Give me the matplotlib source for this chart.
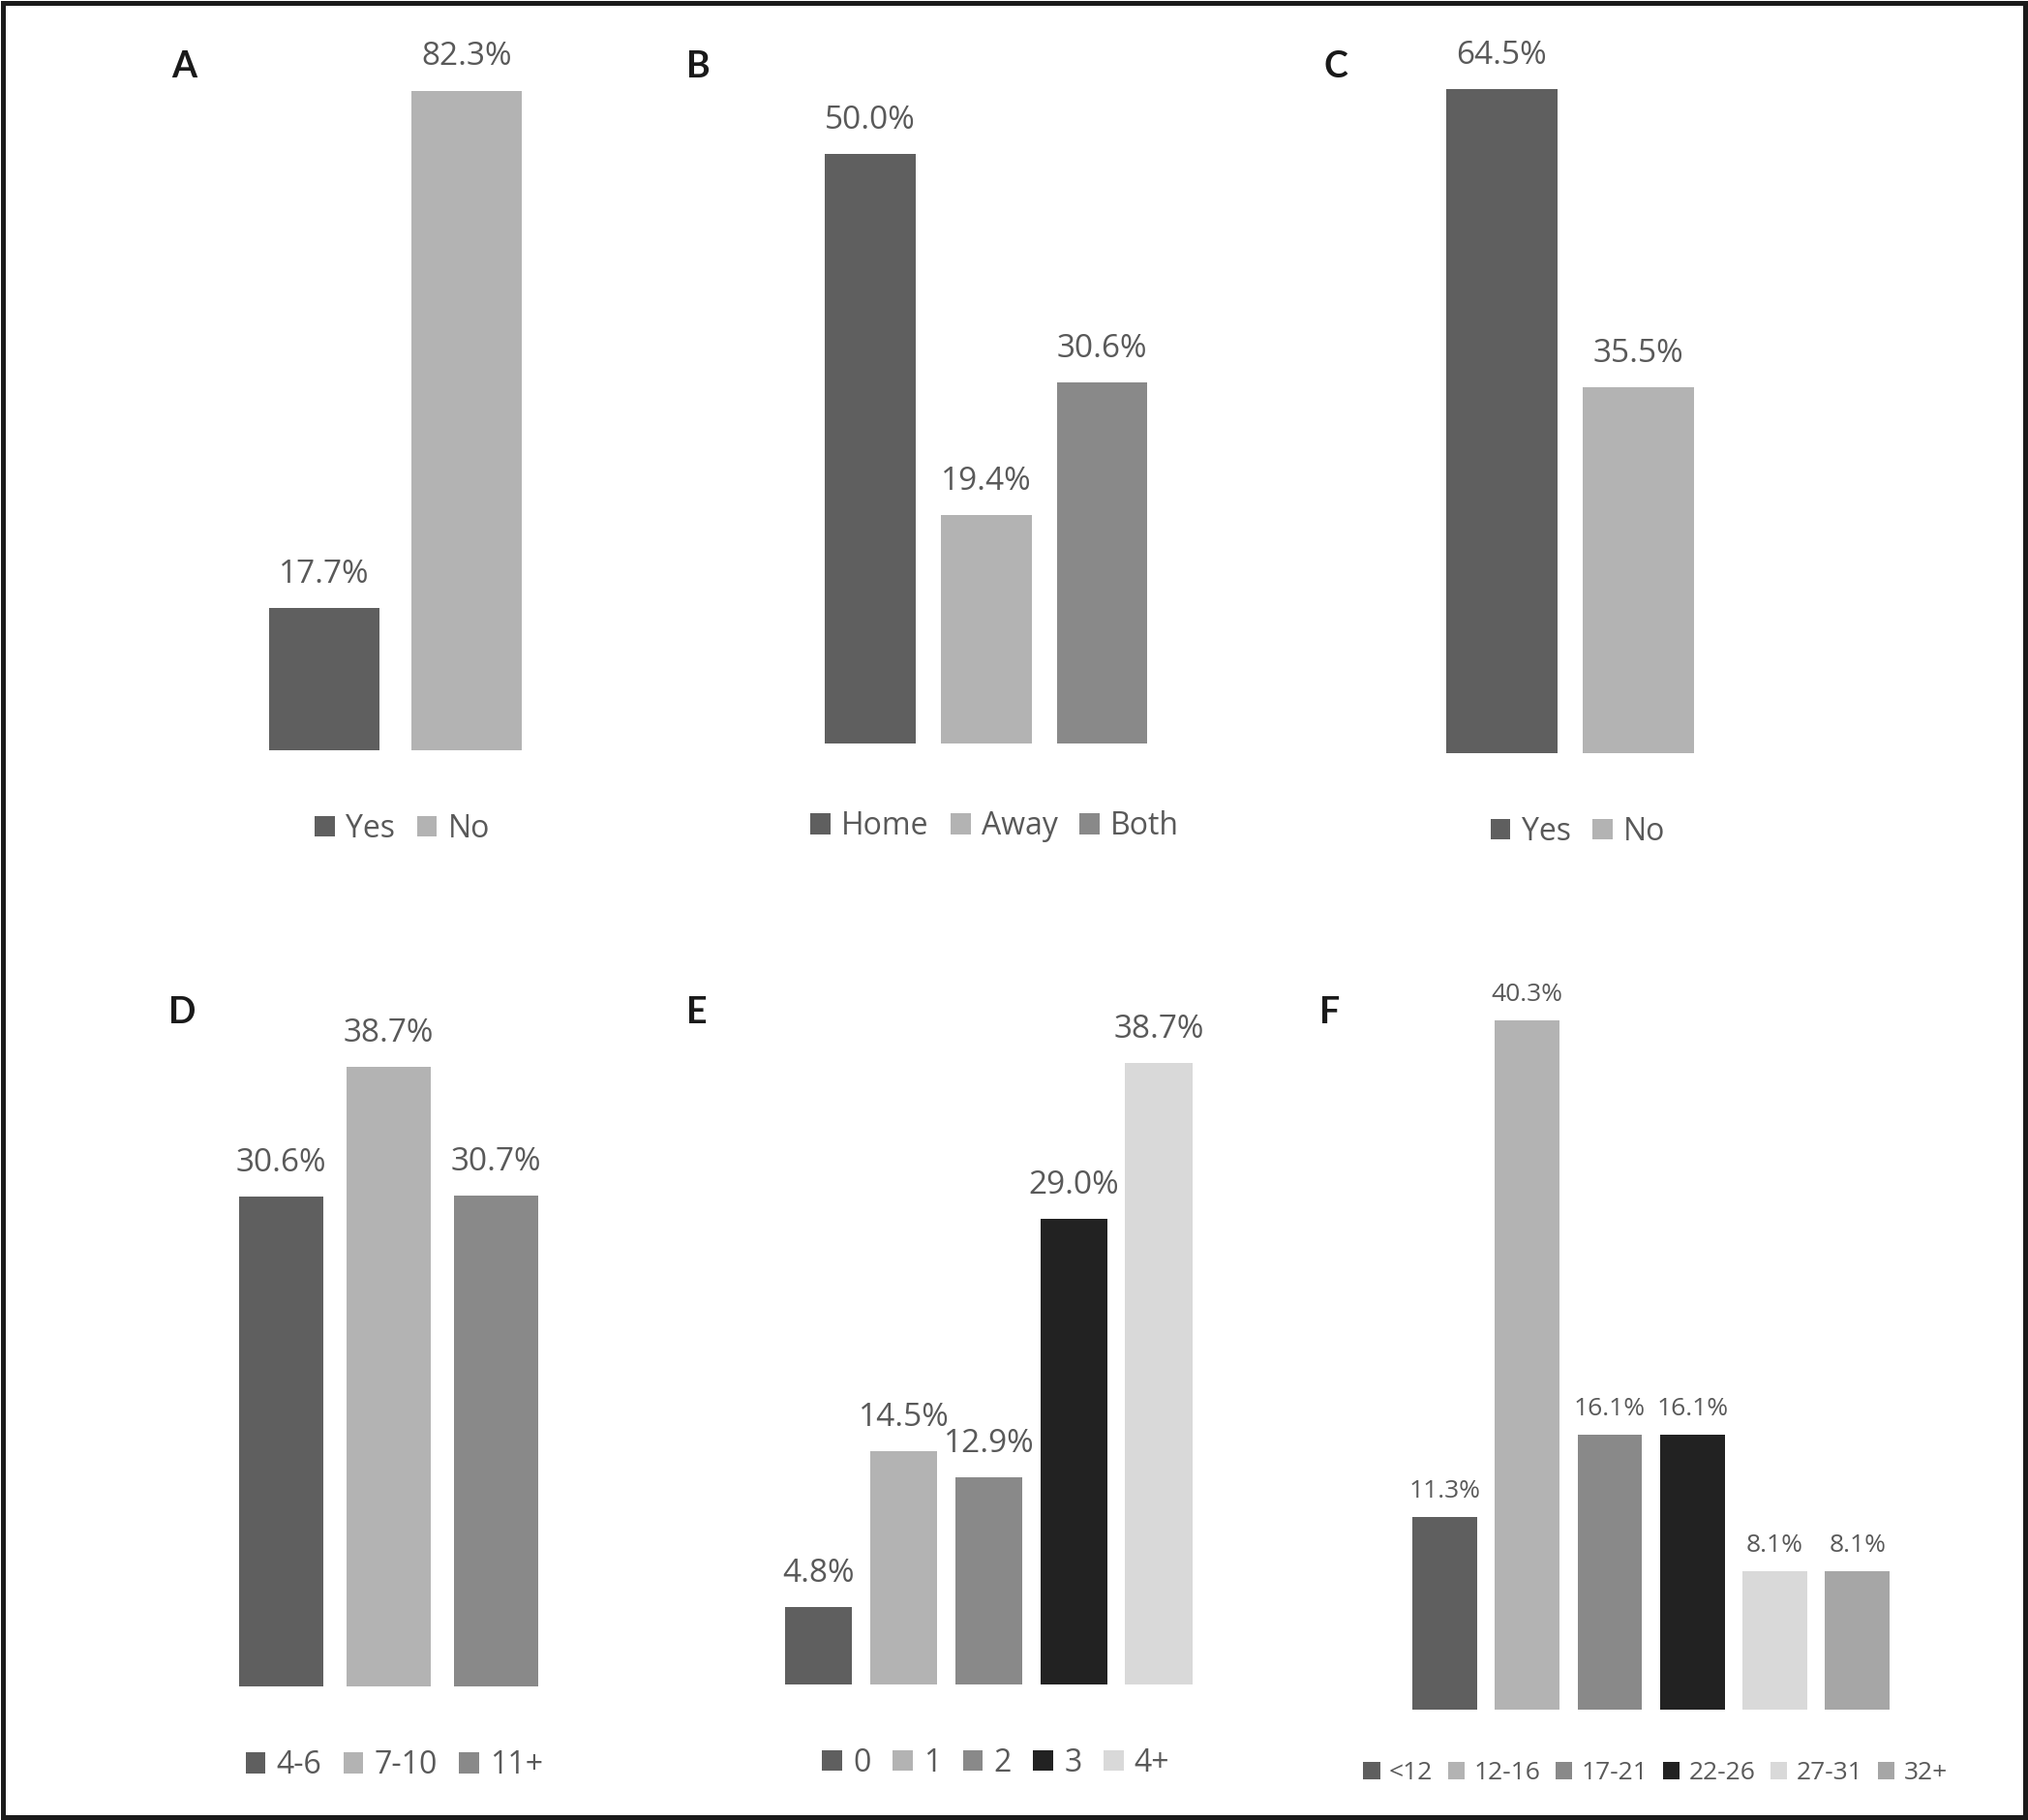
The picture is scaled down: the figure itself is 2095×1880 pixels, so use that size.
import matplotlib
matplotlib.use("Agg")
import matplotlib.pyplot as plt
from matplotlib.patches import Patch, Rectangle

# ---------------- data ----------------
a_labels = ["Yes", "No"]
a_values = [17.7, 82.3]
b_labels = ["Home", "Away", "Both"]
b_values = [50.0, 19.4, 30.6]
c_labels = ["Yes", "No"]
c_values = [64.5, 35.5]
d_labels = ["4-6", "7-10", "11+"]
d_values = [30.6, 38.7, 30.7]
e_labels = ["0", "1", "2", "3", "4+"]
e_values = [4.8, 14.5, 12.9, 29.0, 38.7]
f_labels = ["<12", "12-16", "17-21", "22-26", "27-31", "32+"]
f_values = [11.3, 40.3, 16.1, 16.1, 8.1, 8.1]
panel_letters = ["A", "B", "C", "D", "E", "F"]

# ---------------- styles ----------------
DARK, LIGHT, MID, BLACK, PALE, GREY2 = "#5f5f5f", "#b3b3b3", "#898989", "#222222", "#d9d9d9", "#a6a6a6"
TXT = "#595959"
FONT = "Open Sans"

W, H = 1568.0, 1407.0  # layout reference grid
fig = plt.figure(figsize=(20.95, 18.80), dpi=100)
fig.patch.set_facecolor("white")


def fx(x):
    return x / W


def fy(y):
    return 1 - y / H


def panel(labels, values, colors, c0, c1, barw, base, top, legy, legx,
          lab_fs=24, leg_fs=23, lab_off=13, colsp=0.7):
    n = len(values)
    step = (c1 - c0) / (n - 1)
    left = c0 - step / 2
    width = n * step
    ax_top = top - 90
    vmax = max(values)
    ymax = vmax * (base - ax_top) / (base - top)
    ax = fig.add_axes([fx(left), fy(base), width / W, (base - ax_top) / H])
    xs = list(range(n))
    ax.bar(xs, values, width=barw / step, color=colors, edgecolor="none")
    ax.set_xlim(-0.5, n - 0.5)
    ax.set_ylim(0, ymax)
    ax.axis("off")
    for x, v in zip(xs, values):
        ax.annotate(f"{v:.1f}%", (x, v), xytext=(0, lab_off), textcoords="offset points",
                    ha="center", va="bottom", fontsize=lab_fs, color=TXT,
                    family=FONT, annotation_clip=False)
    handles = [Patch(facecolor=c, edgecolor="none", label=l) for c, l in zip(colors, labels)]
    fig.legend(handles=handles, loc="center", bbox_to_anchor=(fx(legx), fy(legy)),
               ncol=n, frameon=False, handlelength=0.65, handleheight=0.65,
               handletextpad=0.35, columnspacing=colsp,
               prop={"family": FONT, "size": leg_fs}, labelcolor=TXT)
    return ax


panel(a_labels, a_values, [DARK, LIGHT], 250.5, 361, 85.5, 580, 70, 641, 311)
panel(b_labels, b_values, [DARK, LIGHT, MID], 673, 852, 70, 575, 119, 639, 769)
panel(c_labels, c_values, [DARK, LIGHT], 1161, 1267, 86, 582, 69, 643, 1220)
panel(d_labels, d_values, [DARK, LIGHT, MID], 217.5, 383.5, 65, 1304, 825, 1365, 305)
panel(e_labels, e_values, [DARK, LIGHT, MID, BLACK, PALE], 633, 896, 52, 1302, 822, 1363, 770)
panel(f_labels, f_values, [DARK, LIGHT, MID, BLACK, PALE, GREY2], 1117, 1436, 50, 1322, 789,
      1371, 1280, lab_fs=19, leg_fs=19, lab_off=10, colsp=0.6)

letter_pos = [(142, 52), (540, 52), (1033, 52), (141, 783), (539, 783), (1028, 783)]
for letter, (x, y) in zip(panel_letters, letter_pos):
    fig.text(fx(x), fy(y), letter, ha="center", va="center", fontsize=27,
             fontweight="bold", family="Lato", color="#1a1a1a")

fig.patches.append(Rectangle((0.0013, 0.0014), 0.9974, 0.9972, transform=fig.transFigure,
                             fill=False, lw=3.6, ec="#1a1a1a"))

fig.savefig("out.png", dpi=100, facecolor="white")
